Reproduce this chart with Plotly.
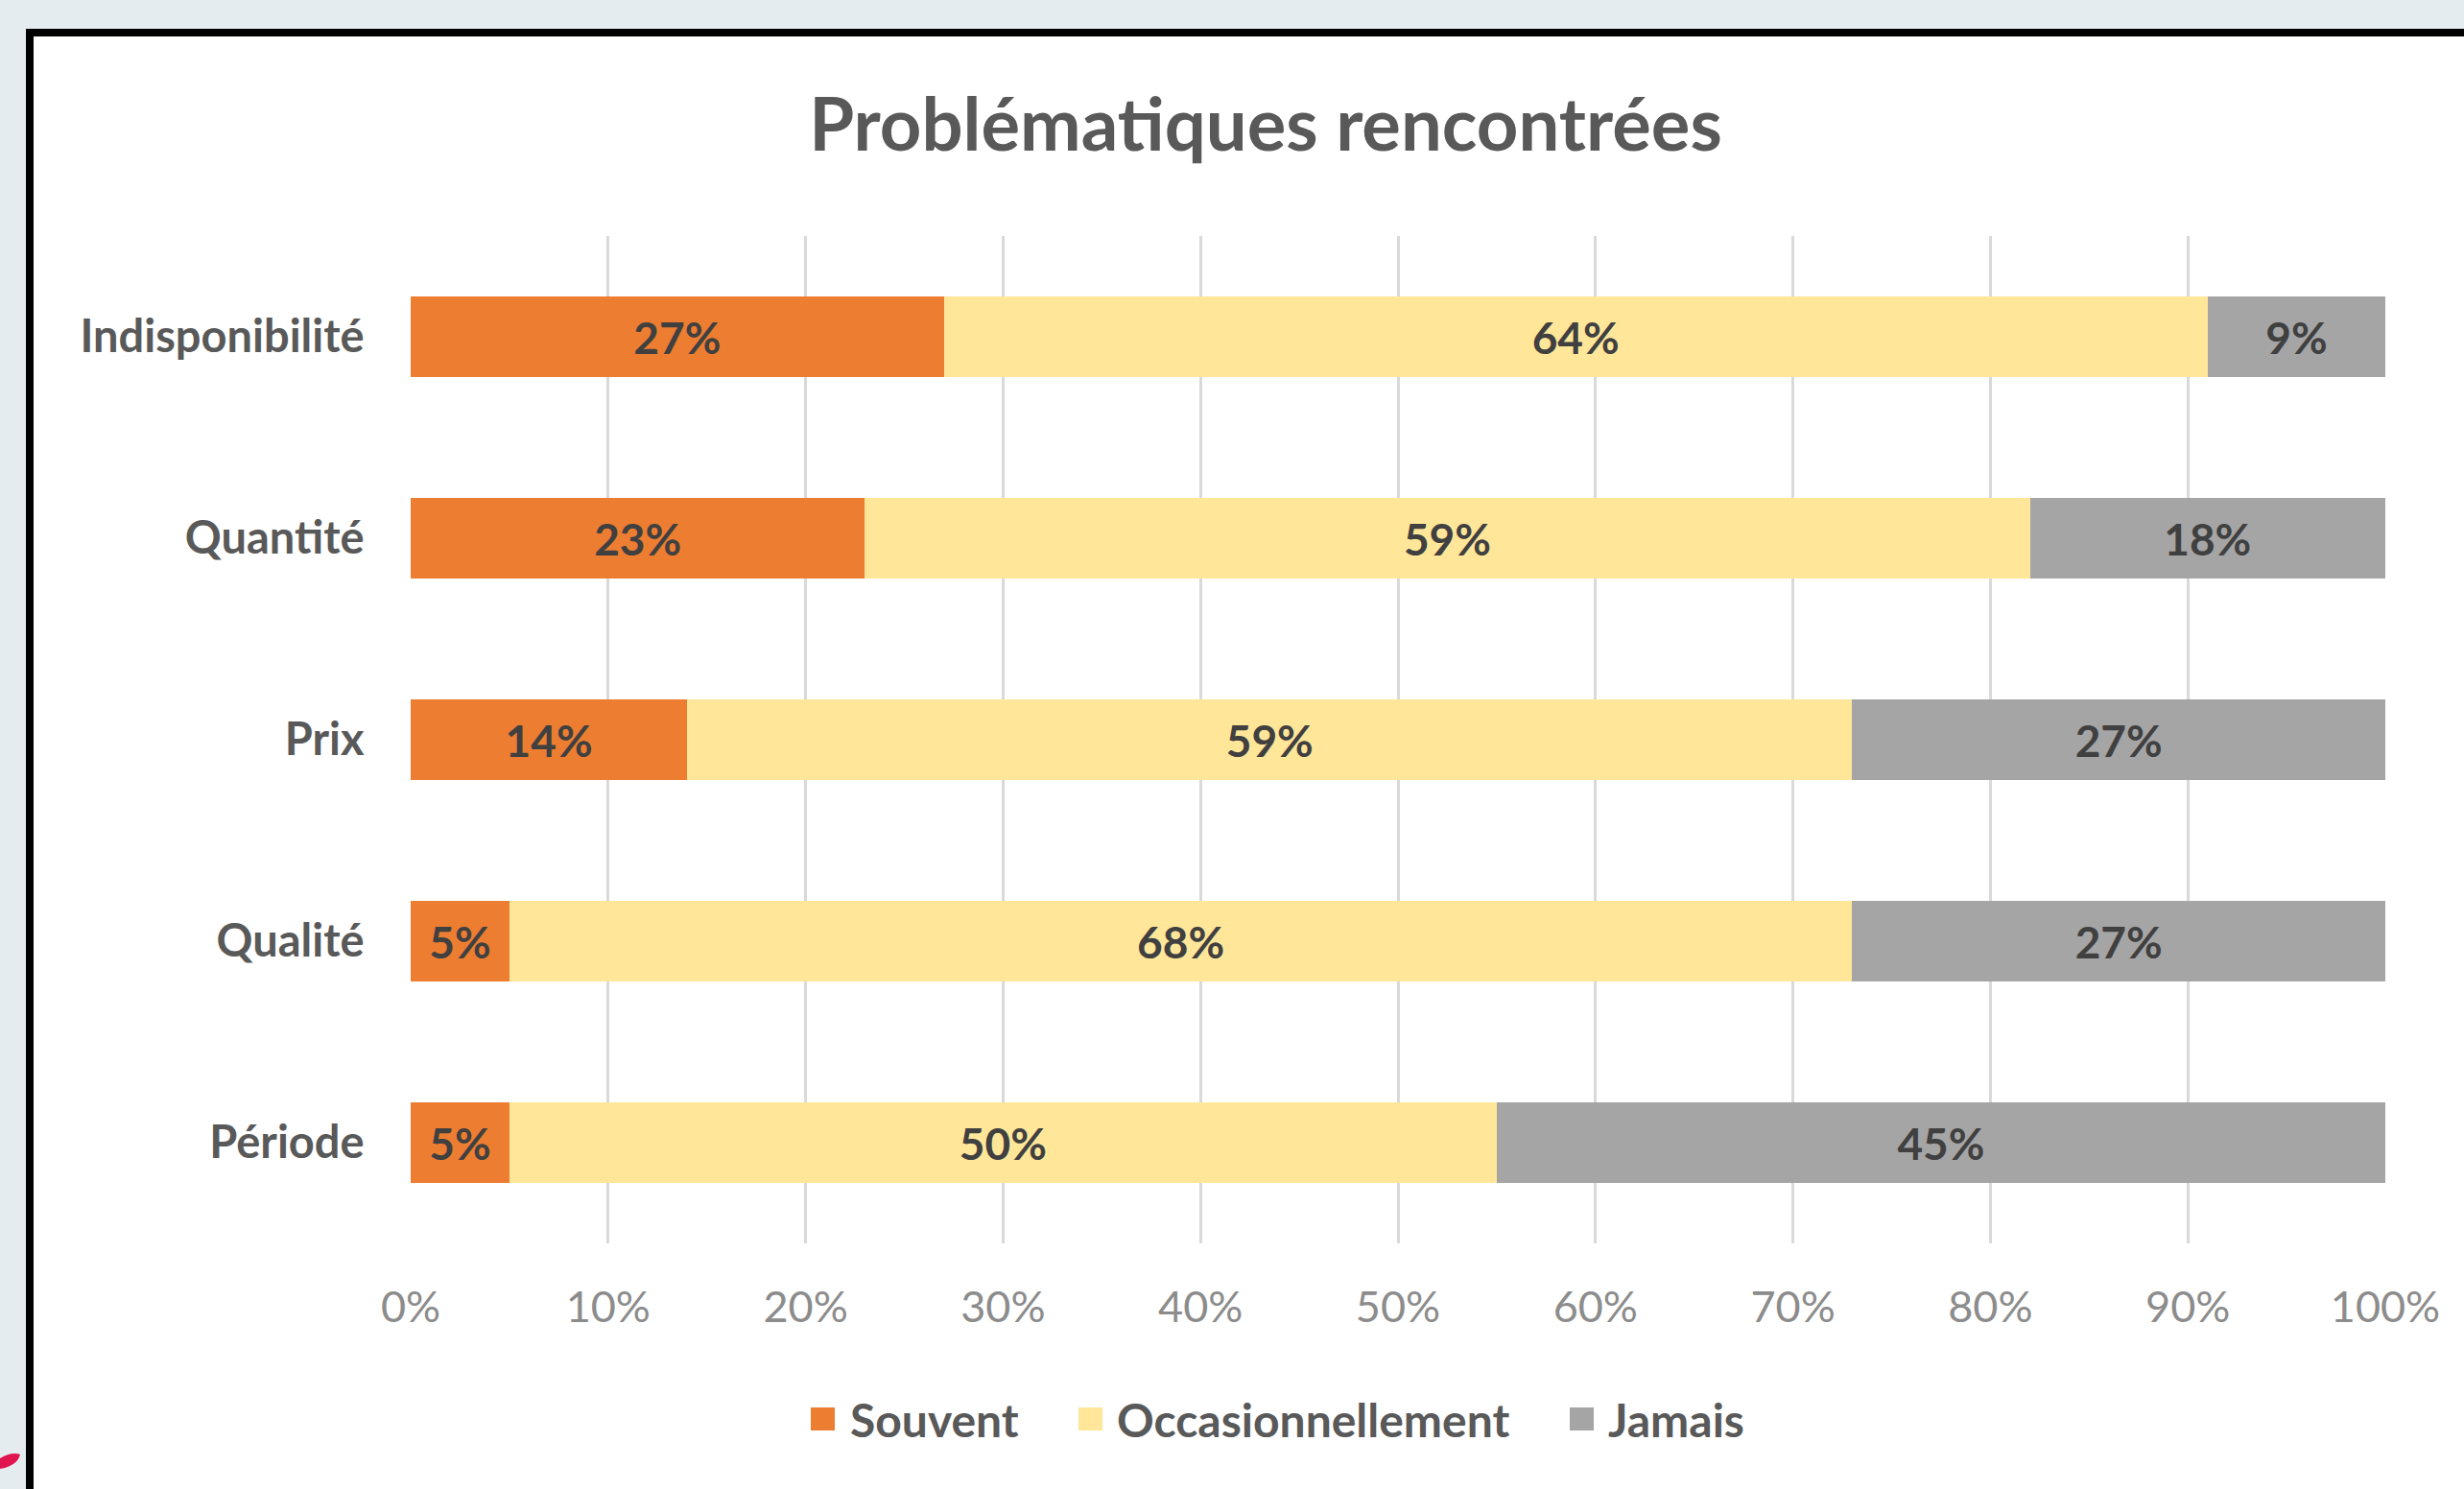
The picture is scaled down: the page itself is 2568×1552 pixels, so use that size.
import plotly.graph_objects as go

categories = ["Indisponibilité", "Quantité", "Prix", "Qualité", "Période"]
souvent = [27, 23, 14, 5, 5]
occasionnellement = [64, 59, 59, 68, 50]
jamais = [9, 18, 27, 27, 45]
series_names = ["Souvent", "Occasionnellement", "Jamais"]
colors = ["#ED7D31", "#FFE699", "#A5A5A5"]
x_ticks = [0, 10, 20, 30, 40, 50, 60, 70, 80, 90, 100]
x_ticklabels = [f"{v}%" for v in x_ticks]

W, H = 2568, 1552
L, R, T, B = 428, 82, 246, 256
PW, PH = W - L - R, H - T - B

def px2x(px):
    return (px - L) / PW

def py2y(py):
    return (H - B - py) / PH

FONT = "Lato"
fig = go.Figure()
for name, vals, col in zip(series_names, [souvent, occasionnellement, jamais], colors):
    fig.add_trace(go.Bar(
        y=categories, x=vals, name=name, orientation="h",
        marker=dict(color=col, line=dict(width=0)),
        text=[f"{v}%" for v in vals], textposition="inside",
        insidetextanchor="middle", constraintext="none",
        textfont=dict(family=FONT, size=46, color="#404040", weight="bold"),
        showlegend=False, hoverinfo="skip",
    ))

shapes = [
    dict(type="rect", xref="paper", yref="paper",
         x0=px2x(31), x1=px2x(2640), y0=py2y(34), y1=py2y(1640),
         line=dict(color="black", width=8), fillcolor="white", layer="below"),
    dict(type="path", xref="paper", yref="paper",
         path=(f"M {px2x(0)},{py2y(1520)} Q {px2x(12)},{py2y(1513)} {px2x(21)},{py2y(1516)} "
               f"Q {px2x(18)},{py2y(1528)} {px2x(0)},{py2y(1531)} Z"),
         fillcolor="#E0154F", line=dict(width=0), layer="above"),
]

# custom legend (larger squares as in the reference)
legend_sq_x = [845, 1124, 1636]
legend_txt_x = [884, 1162, 1674]
legend_y = 1479
annotations = []
for name, col, sx, tx in zip(series_names, colors, legend_sq_x, legend_txt_x):
    shapes.append(dict(type="rect", xref="paper", yref="paper",
                       x0=px2x(sx), x1=px2x(sx + 25), y0=py2y(legend_y - 12), y1=py2y(legend_y + 12),
                       fillcolor=col, line=dict(width=0), layer="above"))
    annotations.append(dict(text=name, xref="paper", yref="paper", x=px2x(tx), y=py2y(legend_y),
                            xanchor="left", yanchor="middle", showarrow=False,
                            font=dict(family=FONT, size=48, color="#595959", weight="bold")))

fig.update_layout(
    width=W, height=H,
    margin=dict(l=L, r=R, t=T, b=B, autoexpand=False),
    paper_bgcolor="#E5ECF0", plot_bgcolor="rgba(0,0,0,0)",
    barmode="stack", bargap=0.6,
    title=dict(text="Problématiques rencontrées", x=1319 / W, xanchor="center",
               y=1 - 130 / H, yanchor="middle", yref="container",
               font=dict(family=FONT, size=76, color="#595959", weight="bold")),
    xaxis=dict(range=[0, 100], tickvals=x_ticks, ticktext=x_ticklabels,
               showgrid=True, gridcolor="#D9D9D9", gridwidth=3,
               zeroline=False, showline=False,
               ticks="outside", ticklen=27, tickcolor="rgba(0,0,0,0)",
               tickfont=dict(family=FONT, size=45, color="#8C8C8C")),
    yaxis=dict(autorange="reversed", showgrid=False, zeroline=False, showline=False,
               ticks="outside", ticklen=38, tickcolor="rgba(0,0,0,0)",
               tickfont=dict(family=FONT, size=47, color="#595959", weight="bold")),
    shapes=shapes,
    annotations=annotations,
    showlegend=False,
)
fig.write_html("out.html", config={"displayModeBar": False},
               post_script="document.body.style.margin='0';document.body.style.overflow='hidden';")
